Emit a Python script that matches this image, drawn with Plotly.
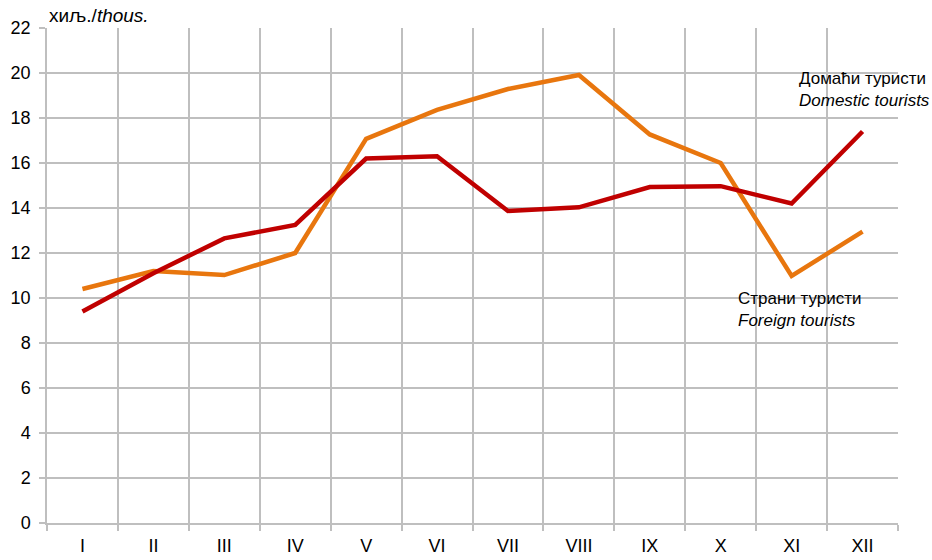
import plotly.graph_objects as go

months = ["I", "II", "III", "IV", "V", "VI", "VII", "VIII", "IX", "X", "XI", "XII"]
domestic = [9.4, 11.1, 12.65, 13.25, 16.2, 16.3, 13.87, 14.03, 14.93, 14.97, 14.2, 17.4]
foreign = [10.4, 11.2, 11.02, 12.0, 17.07, 18.36, 19.29, 19.91, 17.27, 16.0, 10.98, 12.95]
y_ticks = list(range(0, 23, 2))

FONT = "Liberation Sans, Arial, sans-serif"
GRID = "#BFBFBF"

fig = go.Figure()
fig.add_trace(go.Scatter(x=months, y=foreign, mode="lines",
                         line=dict(color="#E8760E", width=4.5), name="Foreign",
                         hoverinfo="skip"))
fig.add_trace(go.Scatter(x=months, y=domestic, mode="lines",
                         line=dict(color="#C00000", width=4.5), name="Domestic",
                         hoverinfo="skip"))

fig.update_layout(
    width=932, height=560,
    margin=dict(l=47, r=34, t=28, b=37, autoexpand=False),
    paper_bgcolor="white", plot_bgcolor="white",
    showlegend=False,
    font=dict(family=FONT, size=17, color="black"),
)
fig.update_xaxes(
    type="category", tickson="boundaries", range=[-0.5, 11.5],
    showgrid=True, gridcolor=GRID, gridwidth=1.5,
    showline=True, linecolor=GRID, linewidth=1.5,
    ticks="outside", ticklen=6, tickcolor=GRID, tickwidth=1.5,
    tickfont=dict(size=18), automargin=False, ticklabelstandoff=6,
)
fig.update_yaxes(
    range=[0, 22], tickvals=y_ticks,
    showgrid=True, gridcolor=GRID, gridwidth=1.5,
    showline=True, linecolor=GRID, linewidth=1.5,
    ticks="outside", ticklen=6, tickcolor=GRID, tickwidth=1.5,
    tickfont=dict(size=18), zeroline=False, automargin=False, ticklabelstandoff=5,
)

fig.add_annotation(x=0, y=1, xref="paper", yref="paper", xanchor="left", yanchor="bottom",
                   yshift=0, showarrow=False,
                   text="хиљ./<i>thous.</i>", font=dict(size=19))
fig.add_annotation(x=0.881, y=0.875, xref="paper", yref="paper", xanchor="left", yanchor="middle",
                   showarrow=False, align="left",
                   text="Домаћи туристи<br><i>Domestic tourists</i>")
fig.add_annotation(x=0.81, y=0.432, xref="paper", yref="paper", xanchor="left", yanchor="middle",
                   showarrow=False, align="left",
                   text="Страни туристи<br><i>Foreign tourists</i>")

fig.write_html("out.html", config={"displayModeBar": False},
               post_script="document.body.style.margin='0';")
